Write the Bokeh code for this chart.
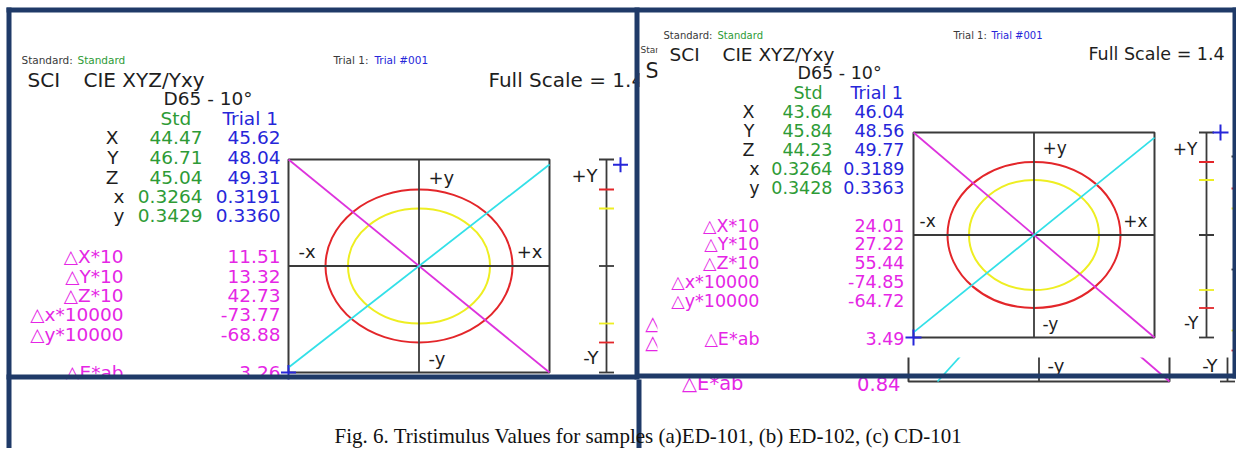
import numpy as np
from bokeh.plotting import figure
from bokeh.models import Range1d
from bokeh.core.properties import value
from bokeh.embed import file_html
from bokeh.resources import INLINE

# ---------------- data ----------------
row_labels = ["X", "Y", "Z", "x", "y"]
delta_labels = ["△X*10", "△Y*10", "△Z*10", "△x*10000", "△y*10000"]
full_scale = 1.4

a_std = [44.47, 46.71, 45.04, 0.3264, 0.3429]
a_trial = [45.62, 48.04, 49.31, 0.3191, 0.3360]
a_delta = [11.51, 13.32, 42.73, -73.77, -68.88]
a_dE = 3.26

b_std = [43.64, 45.84, 44.23, 0.3264, 0.3428]
b_trial = [46.04, 48.56, 49.77, 0.3189, 0.3363]
b_delta = [24.01, 27.22, 55.44, -74.85, -64.72]
b_dE = 3.49

c_dE = 0.84

caption = "Fig. 6. Tristimulus Values for samples (a)ED-101, (b) ED-102, (c) CD-101"

# ---------------- styles / layout ----------------
SANS = "DejaVu Sans"
SERIF = "Liberation Serif"
BLACK = "#1e1e1e"
DARK = "#3a3a3a"
GREEN = "#2e9b36"
BLUE = "#2626d9"
MAG = "#e526e5"
NAVY = "#1f3a68"
RED = "#e3262a"
YEL = "#eeee22"
CYAN = "#33e0e8"
MLINE = "#dd33dd"
BOX = "#3a3a3a"

W, H = 1236, 448

A = dict(hdr_x=21, hdr_y=59, hdr_size="10.5px", hdr_w=56, thdr_x=333, thdr_w=41,
         sci_x=27, cie_x=83, title_y=79, title_size="20px", fs_x=488, fs_y=79, fs_size="20px",
         d65_x=163, d65_y=98, std_x=160, tri_x=222, col_y=118,
         rows=[137, 157, 177, 196, 215], lab_up=118, lab_lo=124, std_r=202, tri_r=280,
         body="18.5px", drows=[256, 276, 295, 314, 334], dE_y=372, dlab_r=123, dval_r=280,
         box=(288, 549, 159, 372), red=(93.5, 76.5), yel=(71, 57.5), cyan=(1.0, 0.953),
         ys_x=606, lbl="18px", q=(9.5, 18, 14, 10, 15, 7), plus=15)

B = dict(hdr_x=663, hdr_y=35, hdr_size="10px", hdr_w=54, thdr_x=953, thdr_w=38,
         sci_x=669, cie_x=722, title_y=54, title_size="18.5px", fs_x=1088, fs_y=53, fs_size="17.5px",
         d65_x=797, d65_y=72, std_x=793, tri_x=850, col_y=92,
         rows=[111, 130, 149, 168, 187], lab_up=754, lab_lo=759, std_r=832, tri_r=904,
         body="17.5px", drows=[225, 243, 262, 281, 300], dE_y=338, dlab_r=759, dval_r=904,
         box=(913, 1154, 132, 337), red=(86.5, 73), yel=(65, 55), cyan=(1.0, 0.95),
         ys_x=1206, lbl="17px", q=(8.5, 15, 14, 6, 14.5, 7), plus=16)

p = figure(width=W, height=H, x_range=Range1d(0, W), y_range=Range1d(H, 0),
           output_backend="svg", toolbar_location=None, x_axis_type=None, y_axis_type=None,
           min_border=0)
p.grid.visible = False
p.outline_line_color = None
p.background_fill_color = "white"
p.border_fill_color = "white"


def T(xs, ys, texts, size, color, align="left", font=SANS):
    p.text(x=list(xs), y=list(ys), text=list(texts), text_font=value(font),
           text_font_size=size, text_color=color, text_align=align, text_baseline="middle")


def white(l, r, t, b):
    p.quad(left=[l], right=[r], top=[t], bottom=[b], fill_color="white", line_color=None)


def navy(l, r, t, b):
    p.quad(left=[l], right=[r], top=[t], bottom=[b], fill_color=NAVY, line_color=None)


def fmt_row(v, i):
    return f"{v:.2f}" if i < 3 else f"{v:.4f}"


def yscale(xs, y0, y1, cy, red_ry, yel_ry):
    p.segment(x0=[xs], y0=[y0], x1=[xs], y1=[y1], line_color=BOX, line_width=1.8)
    ty = [y0, cy, y1, cy - red_ry, cy + red_ry, cy - yel_ry, cy + yel_ry]
    tc = [BOX, BOX, BOX, RED, RED, YEL, YEL]
    p.segment(x0=[xs - 7.5] * 7, y0=ty, x1=[xs + 7.5] * 7, y1=ty, line_color=tc, line_width=1.8)


def draw_panel(L, std, trial, delta, dE):
    hs = L["hdr_size"]
    T([L["hdr_x"]], [L["hdr_y"]], ["Standard: "], hs, DARK)
    T([L["hdr_x"] + L["hdr_w"]], [L["hdr_y"]], ["Standard"], hs, GREEN)
    T([L["thdr_x"]], [L["hdr_y"]], ["Trial 1: "], hs, DARK)
    T([L["thdr_x"] + L["thdr_w"]], [L["hdr_y"]], ["Trial #001"], hs, BLUE)
    T([L["sci_x"], L["cie_x"]], [L["title_y"], L["title_y"]], ["SCI", "CIE XYZ/Yxy"],
      L["title_size"], BLACK)
    T([L["fs_x"]], [L["fs_y"]], [f"Full Scale = {full_scale}"], L["fs_size"], BLACK)
    b = L["body"]
    T([L["d65_x"]], [L["d65_y"]], ["D65 - 10°"], b, BLACK)
    T([L["std_x"]], [L["col_y"]], ["Std"], b, GREEN)
    T([L["tri_x"]], [L["col_y"]], ["Trial 1"], b, BLUE)
    lab_x = [L["lab_up"] if s.isupper() else L["lab_lo"] for s in row_labels]
    T(lab_x, L["rows"], row_labels, b, BLACK, "right")
    T([L["std_r"]] * 5, L["rows"], [fmt_row(v, i) for i, v in enumerate(std)], b, GREEN, "right")
    T([L["tri_r"]] * 5, L["rows"], [fmt_row(v, i) for i, v in enumerate(trial)], b, BLUE, "right")
    dys = L["drows"] + [L["dE_y"]]
    T([L["dlab_r"]] * 6, dys, delta_labels + ["△E*ab"], b, MAG, "right")
    T([L["dval_r"]] * 6, dys, [f"{v:.2f}" for v in delta] + [f"{dE:.2f}"], b, MAG, "right")

    x0, x1, y0, y1 = L["box"]
    cx, cy = (x0 + x1) / 2, (y0 + y1) / 2
    hw, hh = (x1 - x0) / 2, (y1 - y0) / 2
    p.quad(left=[x0], right=[x1], top=[y0], bottom=[y1], fill_color=None, line_color=BOX, line_width=2)
    p.ellipse(x=[cx, cx], y=[cy, cy], width=[2 * L["red"][0], 2 * L["yel"][0]],
              height=[2 * L["red"][1], 2 * L["yel"][1]], fill_color=None,
              line_color=[RED, YEL], line_width=2)
    p.segment(x0=[cx, x0], y0=[y0, cy], x1=[cx, x1], y1=[y1, cy], line_color=BOX, line_width=1.8)
    ca, cb = L["cyan"]
    p.segment(x0=[x0], y0=[y0], x1=[x1], y1=[y1], line_color=MLINE, line_width=1.8)
    p.segment(x0=[cx - ca * hw], y0=[cy + cb * hh], x1=[cx + ca * hw], y1=[cy - cb * hh],
              line_color=CYAN, line_width=1.8)
    qdx, qt, qb, qs, qsy, qr = L["q"]
    T([cx + qdx, cx + qdx, x0 + qs], [y0 + qt, y1 - qb, cy - qsy], ["+y", "-y", "-x"], L["lbl"], BLACK)
    T([x1 - qr], [cy - qsy], ["+x"], L["lbl"], BLACK, "right")
    xs = L["ys_x"]
    yscale(xs, y0, y1, cy, L["red"][1], L["yel"][1])
    T([xs - 9, xs - 8], [y0 + 16, y1 - 15], ["+Y", "-Y"], L["lbl"], BLACK, "right")
    # trial position markers (clipped to full scale)
    fY = np.clip(delta[1] / 10 / full_scale, -1, 1)
    fx = np.clip(delta[3] / 10 / full_scale, -1, 1)
    fy = np.clip(delta[4] / 10 / full_scale, -1, 1)
    p.scatter(x=[xs + 14, cx + fx * hw], y=[cy - fY * hh, cy - fy * hh], marker="cross",
              size=L["plus"], line_color=BLUE, line_width=2)


# ---- panel (a)
draw_panel(A, a_std, a_trial, a_delta, a_dE)
white(11, 634, 379, 430)

# ---- partly hidden panel (c) underneath panel (b)
white(639, W, 12, 400)
T([640], [49], ["Standard: Standard"], "9px", DARK)
T([645], [70], ["SCI"], "21px", BLACK)
T([743, 743, 743], [323, 342, 383], ["△x*10000", "△y*10000", "△E*ab"], "19.5px", MAG, "right")
T([900], [383], [f"{c_dE:.2f}"], "19.5px", MAG, "right")
cx0, cx1, cy0, cy1 = 908, 1169, 156, 381
ccx, ccy = (cx0 + cx1) / 2, 269
p.quad(left=[cx0], right=[cx1], top=[cy0], bottom=[cy1], fill_color=None, line_color=BOX, line_width=2)
p.segment(x0=[ccx], y0=[cy0], x1=[ccx], y1=[cy1], line_color=BOX, line_width=1.8)
p.segment(x0=[cx0], y0=[cy0], x1=[cx1], y1=[cy1], line_color=MLINE, line_width=1.8)
p.segment(x0=[937], y0=[cy1], x1=[ccx], y1=[ccy], line_color=CYAN, line_width=1.8)
T([ccx + 8.5], [365], ["-y"], "18px", BLACK)
T([1217], [365], ["-Y"], "18px", BLACK, "right")
yscale(1227, cy0, cy1, ccy, 81, 61)

# ---- panel (b)
white(657, 1231, 12, 357)
draw_panel(B, b_std, b_trial, b_delta, b_dE)

# ---- frames
navy(6, W, 7, 12)
navy(6, 11, 7, H)
navy(634, 639, 7, 379)
navy(636, 641, 379, H)
navy(6, 636, 374, 379)
navy(636, W, 373, 378)
navy(1232, W, 7, 378)

# ---- caption
T([648], [435], [caption], "21px", "#111111", "center", SERIF)

open("out.html", "w").write(file_html(p, INLINE))
